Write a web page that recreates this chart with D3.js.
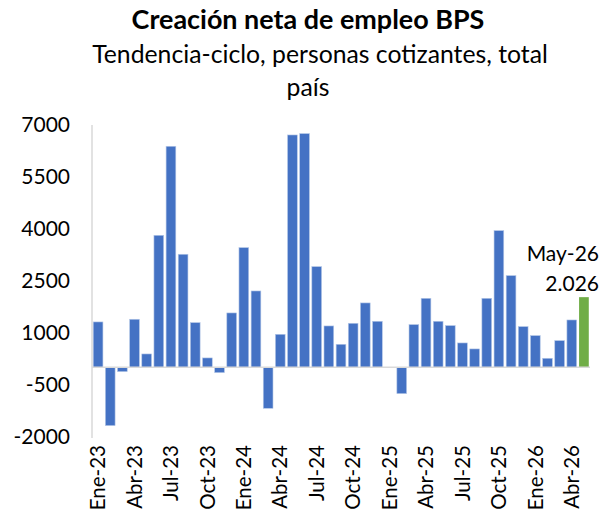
<!DOCTYPE html>
<html><head><meta charset="utf-8">
<script src="https://cdn.jsdelivr.net/npm/d3@7"></script>
<style>body{margin:0;background:#fff}svg{display:block}text{font-family:Lato,"Open Sans",sans-serif;fill:#000}</style>
</head><body><svg id="c" width="609" height="520"></svg>
<script>
const months = ["Ene","Feb","Mar","Abr","May","Jun","Jul","Ago","Sep","Oct","Nov","Dic"];
const categories = [];
for (const yr of ["23","24","25","26"]) for (const m of months) categories.push(m + "-" + yr);
categories.splice(41);
const values = [1310,-1685,-125,1387,385,3813,6385,3265,1290,270,-154,1570,
  3457,2205,-1185,953,6712,6751,2908,1194,664,1271,1859,1329,
  0,-761,1233,1993,1329,1204,703,530,1993,3948,2648,1175,
  915,260,770,1367,2026];
const yTicks = [-2000,-500,1000,2500,4000,5500,7000];
const tickLabels = categories.filter((d,i)=>i%3===0);
const title = "Creación neta de empleo BPS";
const subtitle = ["Tendencia-ciclo, personas cotizantes, total","país"];
const lastLabel = ["May-26","2.026"];

const svg = d3.select("#c");
const x = d3.scaleBand().domain(categories).range([92,590]).paddingInner(0.2).paddingOuter(0.1);
const y = d3.scaleLinear().domain([-2000,7000]).range([436.5,125]);

// fit a text to a target width
function fit(sel, target){ const w = sel.node().getComputedTextLength(); const fs = parseFloat(sel.attr("font-size")); sel.attr("font-size", fs*target/w); }

const t = svg.append("text").attr("x",308).attr("y",29).attr("text-anchor","middle")
  .attr("font-size",21).attr("font-weight","bold").text(title);
fit(t,353);
const s0 = svg.append("text").attr("x",320).attr("y",63).attr("text-anchor","middle").attr("font-size",20).text(subtitle[0]);
fit(s0,456);
const fsSub = s0.attr("font-size");
svg.append("text").attr("x",308).attr("y",96).attr("text-anchor","middle").attr("font-size",fsSub).text(subtitle[1]);

// y axis labels
const ya = svg.append("g").attr("transform","translate(92,0)")
  .call(d3.axisLeft(y).tickValues(yTicks).tickSize(0).tickPadding(22).tickFormat(d=>d));
ya.select(".domain").remove();
ya.selectAll("text").attr("font-size",21).attr("font-family","Lato,'Open Sans',sans-serif").attr("fill","#000");
svg.append("line").attr("x1",92).attr("x2",92).attr("y1",125).attr("y2",438).attr("stroke","#d9d9d9").attr("stroke-width",1.5);

svg.append("g").selectAll("rect").data(values).join("rect")
  .attr("x",(d,i)=>x(categories[i]))
  .attr("width",x.bandwidth())
  .attr("y",d=>y(Math.max(0,d)))
  .attr("height",d=>Math.abs(y(d)-y(0)))
  .attr("fill",(d,i)=>i===values.length-1?"#70ad47":"#4472c4")
  .attr("stroke",(d,i)=>i===values.length-1?"none":"#b4c7e7").attr("stroke-width",0.6);

svg.append("line").attr("x1",92).attr("x2",590).attr("y1",y(0)).attr("y2",y(0)).attr("stroke","#d9d9d9").attr("stroke-width",1.5);

// x axis labels
const xa = svg.append("g").attr("transform","translate(0,440)")
  .call(d3.axisBottom(x).tickValues(tickLabels).tickSize(0).tickPadding(0));
xa.select(".domain").remove();
xa.selectAll("text").attr("font-size",20.5).attr("font-family","Lato,'Open Sans',sans-serif").attr("fill","#000")
  .attr("transform","rotate(-90)").attr("text-anchor","end").attr("dy","0.35em").attr("dx","-5").attr("y",0);

lastLabel.forEach((s,i)=>svg.append("text").attr("x",599).attr("y",261+i*30)
  .attr("text-anchor","end").attr("font-size",21).text(s));
</script></body></html>
